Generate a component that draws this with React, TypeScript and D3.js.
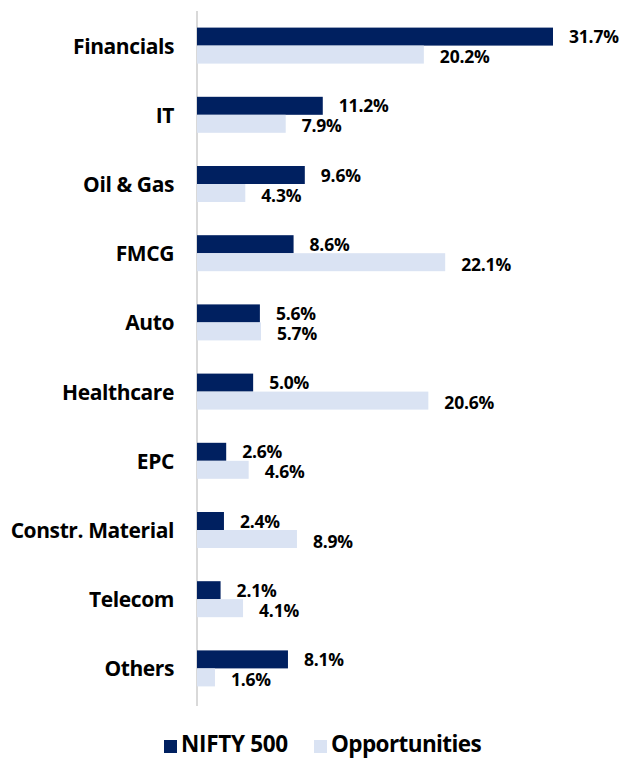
import React from "react";
import * as d3 from "d3";

const categories = ["Financials", "IT", "Oil & Gas", "FMCG", "Auto", "Healthcare", "EPC", "Constr. Material", "Telecom", "Others"];
const nifty500 = [31.7, 11.2, 9.6, 8.6, 5.6, 5.0, 2.6, 2.4, 2.1, 8.1];
const opportunities = [20.2, 7.9, 4.3, 22.1, 5.7, 20.6, 4.6, 8.9, 4.1, 1.6];
const seriesNames = ["NIFTY 500", "Opportunities"];

const W = 624, H = 758;
const DARK = "#002060";
const LIGHT = "#dae3f3";
const FONT = "'Open Sans', Lato, sans-serif";

export default function App() {
  const x = d3.scaleLinear().domain([0, 35]).range([197, 197 + 35 * 11.23]);
  const y = d3.scaleBand().domain(categories).range([11, 703]);
  const barH = 18;
  const series = [nifty500, opportunities];
  const colors = [DARK, LIGHT];
  return (
    <svg width={W} height={H} style={{ position: "absolute", left: 0, top: 0, background: "#fff" }} fontFamily={FONT}>
      <line x1={197} x2={197} y1={11} y2={706} stroke="#d9d9d9" strokeWidth={2} />
      {categories.map((c, i) => {
        const cy = (y(c) as number) + y.bandwidth() / 2;
        return (
          <g key={c}>
            <text x={174} y={cy} textAnchor="end" dominantBaseline="central" fontSize={21} fontWeight={700} fill="#000" letterSpacing={-0.4}>{c}</text>
            {series.map((s, k) => {
              const top = cy - barH + k * barH;
              return (
                <g key={k}>
                  <rect x={x(0)} y={top} width={x(s[i]) - x(0)} height={barH} fill={colors[k]} />
                  <text x={x(s[i]) + 16} y={top + barH / 2 + (k === 0 ? -0.5 : 1.5)} dominantBaseline="central" fontSize={17.5} fontWeight={700} fill="#000" letterSpacing={-0.2}>{s[i].toFixed(1) + "%"}</text>
                </g>
              );
            })}
          </g>
        );
      })}
      <g>
        <rect x={164} y={740} width={13} height={13} fill={DARK} />
        <text x={181} y={752} fontSize={22.5} fontWeight={700} letterSpacing={-0.3}>{seriesNames[0]}</text>
        <rect x={314} y={740} width={13} height={13} fill={LIGHT} />
        <text x={331} y={752} fontSize={22.5} fontWeight={700} letterSpacing={-0.6}>{seriesNames[1]}</text>
      </g>
    </svg>
  );
}
